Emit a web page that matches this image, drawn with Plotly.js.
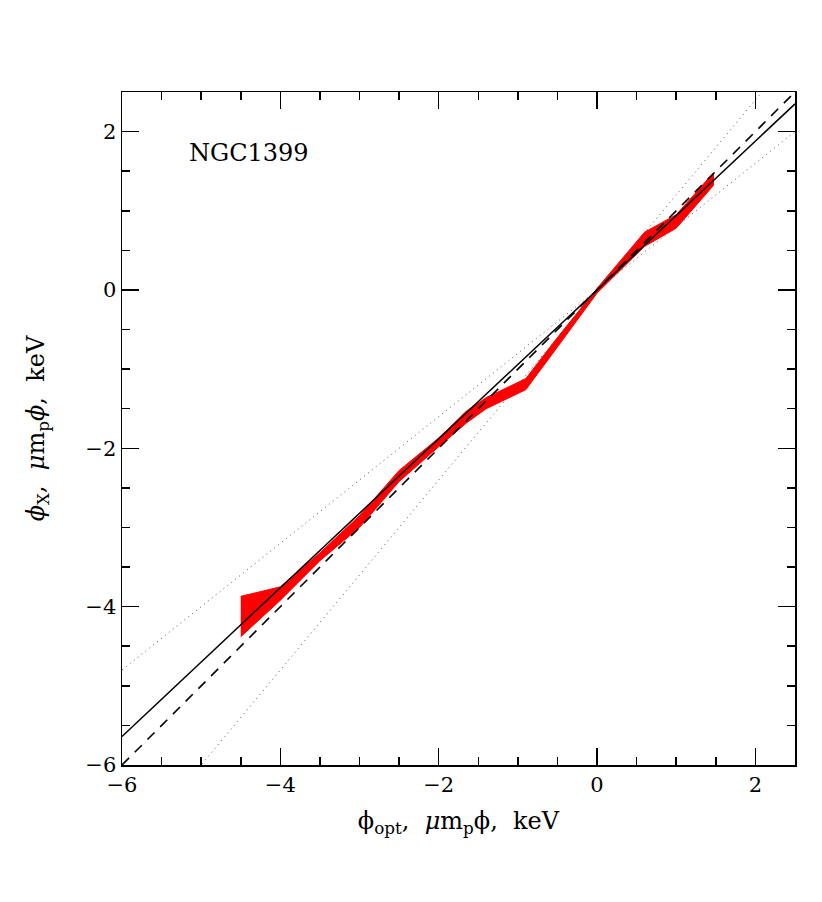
<!DOCTYPE html>
<html>
<head>
<meta charset="utf-8">
<script src="https://cdn.plot.ly/plotly-3.0.1.min.js"></script>
<style>html,body{margin:0;padding:0;background:#fff;}</style>
</head>
<body>
<div id="chart" style="width:822px;height:902px;"></div>
<script>
// Red band (phi_X range vs phi_opt)
const bandX  = [-4.5, -4.0, -3.5, -3.0, -2.5, -2.0, -1.65, -1.4, -0.9, -0.5, 0.0, 0.6, 1.0, 1.47];
const bandHi = [-3.87, -3.75, -3.32, -2.85, -2.28, -1.87, -1.53, -1.36, -1.12, -0.60, 0.02, 0.73, 0.95, 1.48];
const bandLo = [-4.38, -3.92, -3.42, -3.00, -2.42, -1.98, -1.68, -1.50, -1.26, -0.72, -0.04, 0.55, 0.78, 1.32];

// Reference lines y = slope * x
const lineX = [-6, 2.5];
const slopeFit = 0.94;     // solid
const slopeEqual = 1.0;    // dashed
const slopeLow = 0.8;      // dotted
const slopeHigh = 1.2;     // dotted

const xTicks = [-6, -4, -2, 0, 2];
const yTicks = [-6, -4, -2, 0, 2];

const lineY = s => lineX.map(x => s * x);

const traces = [
  {
    x: bandX.concat(bandX.slice().reverse()),
    y: bandHi.concat(bandLo.slice().reverse()),
    type: 'scatter', mode: 'lines', fill: 'toself',
    fillcolor: '#ff0000', line: {color: '#ff0000', width: 1},
    hoverinfo: 'skip'
  },
  {x: lineX, y: lineY(slopeLow), type: 'scatter', mode: 'lines',
   line: {color: '#555', width: 1, dash: '1px,4px'}},
  {x: lineX, y: lineY(slopeHigh), type: 'scatter', mode: 'lines',
   line: {color: '#555', width: 1, dash: '1px,4px'}},
  {x: lineX, y: lineY(slopeEqual), type: 'scatter', mode: 'lines',
   line: {color: '#000', width: 1.6, dash: '10px,8px'}},
  {x: lineX, y: lineY(slopeFit), type: 'scatter', mode: 'lines',
   line: {color: '#000', width: 1.5}}
];

const font = {family: 'DejaVu Serif, serif', size: 21, color: '#000'};

const axisCommon = {
  showline: true, mirror: 'allticks', linecolor: '#000', linewidth: 1.5,
  ticks: 'inside', ticklen: 17, tickwidth: 1.5, tickcolor: '#000',
  showgrid: false, zeroline: false,
  minor: {dtick: 0.5, ticks: 'inside', ticklen: 8, tickwidth: 1.5, tickcolor: '#000', showgrid: false},
  tickfont: font
};

const layout = {
  width: 822, height: 902,
  margin: {l: 122, r: 27, t: 92, b: 137},
  paper_bgcolor: '#fff', plot_bgcolor: '#fff',
  showlegend: false,
  font: font,
  xaxis: Object.assign({}, axisCommon, {
    range: [-6, 2.5], tickvals: xTicks, ticktext: xTicks.map(v => v < 0 ? '\u2212' + (-v) : String(v)),
    title: {text: '\u03d5<sub>opt</sub>,  <i>\u03bc</i>m<sub>p</sub>\u03d5,  keV', font: {family: 'DejaVu Serif, serif', size: 24}, standoff: 16}
  }),
  yaxis: Object.assign({}, axisCommon, {
    range: [-6, 2.5], tickvals: yTicks, ticktext: yTicks.map(v => v < 0 ? '\u2212' + (-v) : String(v)),
    title: {text: '<i>\u03d5</i><sub>X</sub>,  <i>\u03bc</i>m<sub>p</sub><i>\u03d5</i>,  keV', font: {family: 'DejaVu Serif, serif', size: 24}, standoff: 34}
  }),
  annotations: [{
    x: -4.39, y: 1.73, xref: 'x', yref: 'y', text: 'NGC1399', showarrow: false,
    font: {family: 'DejaVu Serif, serif', size: 24, color: '#000'}
  }]
};

Plotly.newPlot('chart', traces, layout, {displayModeBar: false, staticPlot: true});
</script>
</body>
</html>
